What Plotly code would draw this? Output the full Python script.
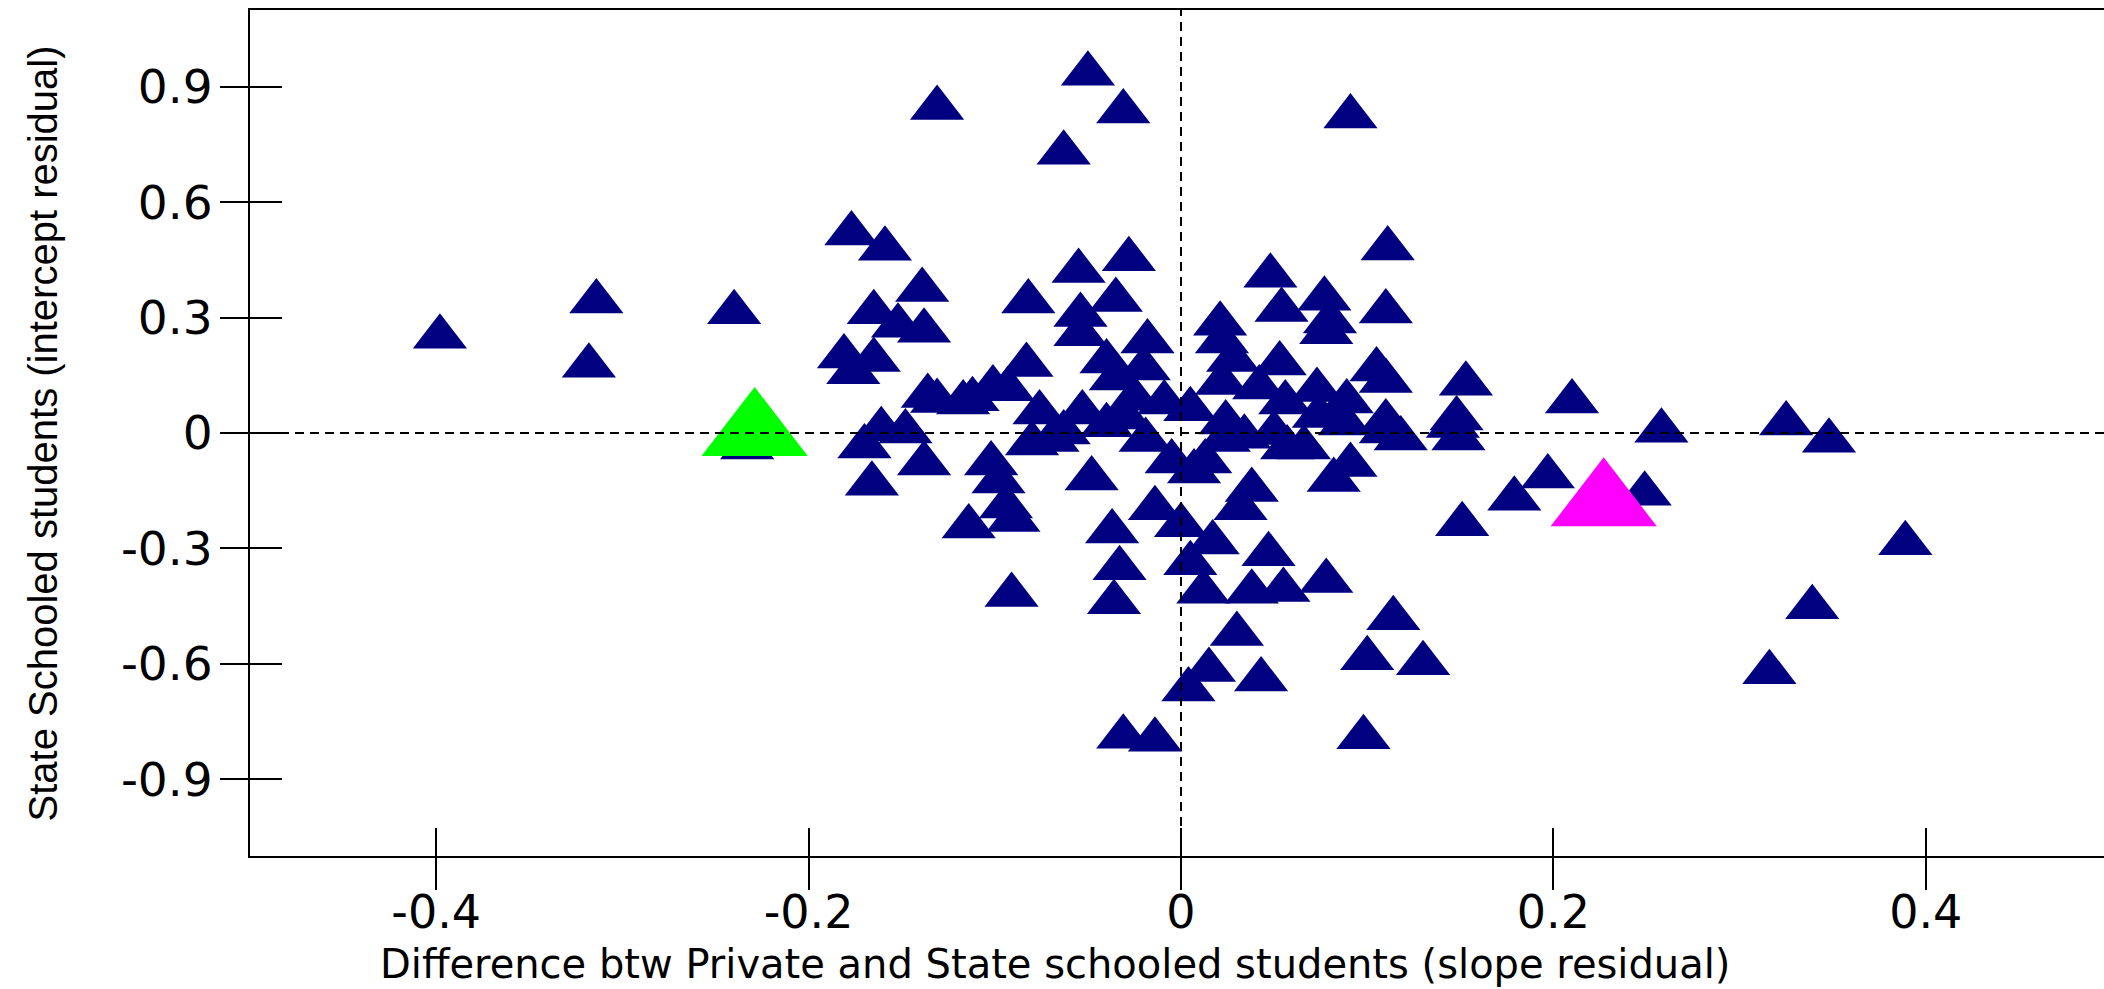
import plotly.graph_objects as go

# ---- data ----
x_blue = [
    -0.398, -0.314, -0.318, -0.240, -0.233, -0.177, -0.159, -0.165, -0.152, -0.181,
    -0.165, -0.176, -0.161, -0.170, -0.166, -0.148, -0.139, -0.138,
    -0.131, -0.050, -0.031, -0.063, 0.091,
    -0.082, -0.055, -0.028, -0.054, -0.054, -0.035, -0.018, -0.040, -0.020, -0.035,
    -0.025, -0.009,
    -0.136, -0.131, -0.117, -0.112, -0.101, -0.093, -0.083, -0.076, -0.053, -0.063,
    -0.040, -0.030,
    -0.138, -0.102, -0.098, -0.094, -0.090, -0.114, -0.091, -0.048, -0.080, -0.069,
    -0.019,
    -0.005, 0.013, 0.007, -0.014, 0.000, 0.017, 0.005, 0.012, -0.037, -0.033, -0.036,
    0.038, 0.032, 0.047, 0.038, 0.055, 0.078, 0.030, 0.015, 0.004, 0.043,
    -0.031, -0.014, 0.098, 0.114, 0.100, 0.130, 0.151, 0.179, 0.197, 0.249,
    0.258, 0.325, 0.348, 0.389, 0.339, 0.316, 0.210,
    0.091, 0.082, 0.110, 0.088, 0.057, 0.066, 0.034, 0.023, 0.050, 0.073, 0.022,
    0.118, 0.149, 0.110, 0.148, 0.146, 0.153, 0.105, 0.110,
    0.111, 0.110, 0.077, 0.078, 0.080, 0.048, 0.054, 0.021, 0.022, 0.028, 0.053,
    0.042, 0.005, 0.024, 0.089, 0.056, 0.074,
]
y_blue = [
    0.250, 0.342, 0.175, 0.314, -0.038, 0.519, 0.479, 0.314, 0.279, 0.199,
    0.190, 0.158, 0.010, -0.035, -0.132, 0.004, 0.372, 0.266,
    0.845, 0.934, 0.836, 0.729, 0.823,
    0.342, 0.421, 0.452, 0.307, 0.257, 0.346, 0.238, 0.186, 0.168, 0.142,
    0.089, 0.079,
    0.096, 0.083, 0.079, 0.088, 0.118, 0.114, 0.177, 0.053, 0.053, 0.001,
    0.020, 0.040,
    -0.079, -0.079, -0.126, -0.191, -0.226, -0.243, -0.421, -0.118, -0.027, -0.018,
    -0.018,
    -0.074, -0.074, -0.100, -0.196, -0.240, -0.285, -0.339, -0.413, -0.256, -0.352, -0.440,
    -0.148, -0.196, -0.315, -0.413, -0.408, -0.385, -0.523, -0.616, -0.667, -0.641,
    -0.790, -0.798, -0.791, -0.482, -0.586, -0.599, -0.237, -0.171, -0.113, -0.158,
    0.006, 0.025, -0.020, -0.287, -0.453, -0.622, 0.082,
    -0.083, -0.122, 0.004, 0.025, -0.038, -0.038, -0.010, -0.018, 0.000, 0.112, 0.130,
    -0.014, -0.014, 0.030, 0.038, 0.018, 0.128, 0.165, 0.135,
    0.480, 0.316, 0.349, 0.262, 0.290, 0.409, 0.320, 0.284, 0.238, 0.190, 0.181,
    0.118, 0.062, 0.027, 0.082, 0.079, 0.044,
]
x_green = [-0.229]
y_green = [0.000]
x_magenta = [0.227]
y_magenta = [-0.183]

x_tickvals = [-0.4, -0.2, 0, 0.2, 0.4]
x_ticktext = ["-0.4", "-0.2", "0", "0.2", "0.4"]
y_tickvals = [0.9, 0.6, 0.3, 0, -0.3, -0.6, -0.9]
y_ticktext = ["0.9", "0.6", "0.3", "0", "-0.3", "-0.6", "-0.9"]

x_title = "Difference btw Private and State schooled students (slope residual)"
y_title = "State Schooled students (intercept residual)"

X_RANGE = [-0.5, 0.4957]
Y_RANGE = [-1.1, 1.1]

fig = go.Figure()
fig.add_trace(go.Scatter(
    x=x_blue, y=y_blue, mode="markers",
    marker=dict(symbol="triangle-up", size=47, color="#000080", line=dict(width=0)),
    hoverinfo="skip", showlegend=False))
fig.add_trace(go.Scatter(
    x=x_green, y=y_green, mode="markers",
    marker=dict(symbol="triangle-up", size=92, color="#00FF00", line=dict(width=0)),
    hoverinfo="skip", showlegend=False))
fig.add_trace(go.Scatter(
    x=x_magenta, y=y_magenta, mode="markers",
    marker=dict(symbol="triangle-up", size=92, color="#FF00FF", line=dict(width=0)),
    hoverinfo="skip", showlegend=False))
# invisible trace to activate the overlay axes (inner halves of the crossing ticks)
fig.add_trace(go.Scatter(x=[None], y=[None], xaxis="x2", yaxis="y2",
                         mode="markers", showlegend=False, hoverinfo="skip"))

dash_line = dict(color="black", width=2, dash="9px,6px")
fig.add_hline(y=0, line=dash_line, layer="above")
fig.add_vline(x=0, line=dash_line, layer="above")

fig.update_layout(
    width=2104, height=989,
    margin=dict(l=250, r=0, t=10, b=133, pad=0),
    paper_bgcolor="white", plot_bgcolor="white",
    showlegend=False,
    xaxis=dict(
        range=X_RANGE, tickvals=x_tickvals, ticktext=x_ticktext,
        ticks="outside", ticklen=32, tickwidth=2, tickcolor="black",
        showline=True, linecolor="black", linewidth=2, mirror=True,
        showgrid=False, zeroline=False, ticklabelstandoff=-17,
        tickfont=dict(family="DejaVu Sans", size=46, color="black"),
    ),
    yaxis=dict(
        range=Y_RANGE, tickvals=y_tickvals, ticktext=y_ticktext,
        ticks="outside", ticklen=28, tickwidth=2, tickcolor="black",
        showline=True, linecolor="black", linewidth=2, mirror=False,
        showgrid=False, zeroline=False, ticklabelstandoff=-2,
        tickfont=dict(family="DejaVu Sans", size=47, color="black"),
    ),
    xaxis2=dict(
        overlaying="x", anchor="y", side="bottom", range=X_RANGE,
        tickvals=x_tickvals, ticks="inside", ticklen=28, tickwidth=2,
        tickcolor="black", showticklabels=False, showgrid=False,
        zeroline=False, showline=False,
    ),
    yaxis2=dict(
        overlaying="y", anchor="x", side="left", range=Y_RANGE,
        tickvals=y_tickvals, ticks="inside", ticklen=32, tickwidth=2,
        tickcolor="black", showticklabels=False, showgrid=False,
        zeroline=False, showline=False,
    ),
    annotations=[
        dict(text=x_title, xref="paper", yref="paper", x=0.4342, y=-0.1275,
             xanchor="center", yanchor="middle", showarrow=False,
             font=dict(family="DejaVu Sans", size=40, color="black")),
        dict(text=y_title, xref="paper", yref="paper", x=-0.1114, y=0.5,
             xanchor="center", yanchor="middle", showarrow=False, textangle=-90,
             font=dict(family="Liberation Sans", size=40, color="black")),
    ],
)

fig.write_html("out.html")
